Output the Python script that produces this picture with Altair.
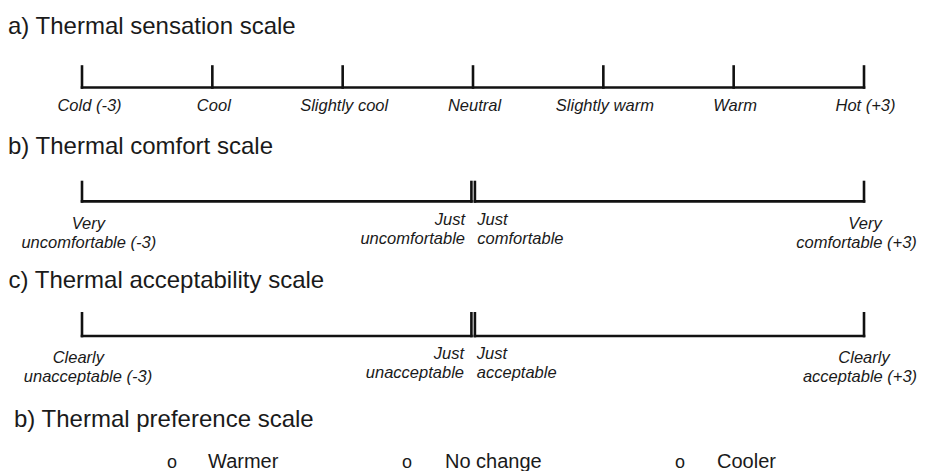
import altair as alt
import pandas as pd

# ---------------- data ----------------
titles = [
    "a) Thermal sensation scale",
    "b) Thermal comfort scale",
    "c) Thermal acceptability scale",
    "b) Thermal preference scale",
]

sensation_values = [-3, -2, -1, 0, 1, 2, 3]
sensation_labels = ["Cold (-3)", "Cool", "Slightly cool", "Neutral",
                    "Slightly warm", "Warm", "Hot (+3)"]

comfort_values = [-3, 0, 0, 3]
comfort_line1 = ["Very", "Just", "Just", "Very"]
comfort_line2 = ["uncomfortable (-3)", "uncomfortable", "comfortable", "comfortable (+3)"]

accept_values = [-3, 0, 0, 3]
accept_line1 = ["Clearly", "Just", "Just", "Clearly"]
accept_line2 = ["unacceptable (-3)", "unacceptable", "acceptable", "acceptable (+3)"]

slots = [0, 1, 2, 3]

preference_options = ["Warmer", "No change", "Cooler"]

# ---------------- style / layout ----------------
FONT = "Liberation Sans"
LINE = "#111111"
TXT = "#1a1a1a"
SW = 2.6
W, H = 909, 463
XS = alt.Scale(domain=[-3.5678, 3.4066], nice=False, zero=False)
OPT_BULLET_X = [164, 399, 672]
OPT_TEXT_X = [200, 437, 709]

layers = []


def title_layer(text, y, x=0):
    return alt.Chart(pd.DataFrame({"t": [text]})).mark_text(
        font=FONT, fontSize=24, color=TXT, align="left", baseline="alphabetic"
    ).encode(text="t:N", x=alt.value(x), y=alt.value(y))


layers += [
    title_layer(titles[0], 26.3, 0),
    title_layer(titles[1], 146, 0),
    title_layer(titles[2], 280.3, 0.5),
    title_layer(titles[3], 418.7, 6),
]

# ---------- a) sensation scale ----------
sens = pd.DataFrame({"value": sensation_values, "label": sensation_labels})
sc = alt.Chart(sens)
layers.append(
    sc.mark_rule(color=LINE, strokeWidth=SW, strokeCap="square").encode(
        x=alt.X("min(value):Q", scale=XS, axis=None),
        x2="max(value):Q",
        y=alt.value(79.5),
    )
)
layers.append(
    sc.mark_rule(color=LINE, strokeWidth=SW, strokeCap="square").encode(
        x=alt.X("value:Q", scale=XS, axis=None),
        y=alt.value(58.5),
        y2=alt.value(79.5),
    )
)
layers.append(
    sc.transform_filter(alt.datum.value > -3).mark_text(
        font=FONT, fontSize=16.5, fontStyle="italic", color=TXT,
        align="center", baseline="alphabetic", dx=1.5
    ).encode(x=alt.X("value:Q", scale=XS, axis=None), y=alt.value(103), text="label:N")
)
layers.append(
    sc.transform_filter(alt.datum.value == -3).mark_text(
        font=FONT, fontSize=16.5, fontStyle="italic", color=TXT,
        align="center", baseline="alphabetic", dx=7.5
    ).encode(x=alt.X("value:Q", scale=XS, axis=None), y=alt.value(103), text="label:N")
)


# ---------- bipolar scales (comfort, acceptability) ----------
def bipolar(values, line1, line2, y_top, y_base, y_outer, y_mid, dx0, dx3, dx1, dx2):
    df = pd.DataFrame({"value": values, "line1": line1, "line2": line2, "slot": slots})
    c = alt.Chart(df)
    rule = dict(color=LINE, strokeWidth=SW, strokeCap="square")
    out = []
    out.append(
        c.transform_filter(alt.datum.slot <= 1).mark_rule(x2Offset=-1.6, **rule).encode(
            x=alt.X("min(value):Q", scale=XS, axis=None), x2="max(value):Q", y=alt.value(y_base)
        )
    )
    out.append(
        c.transform_filter(alt.datum.slot >= 2).mark_rule(xOffset=1.9, **rule).encode(
            x=alt.X("min(value):Q", scale=XS, axis=None), x2="max(value):Q", y=alt.value(y_base)
        )
    )
    out.append(
        c.transform_filter((alt.datum.slot == 0) | (alt.datum.slot == 3)).mark_rule(**rule).encode(
            x=alt.X("value:Q", scale=XS, axis=None), y=alt.value(y_top), y2=alt.value(y_base)
        )
    )
    out.append(
        c.transform_filter(alt.datum.slot == 1).mark_rule(xOffset=-1.6, **rule).encode(
            x=alt.X("value:Q", scale=XS, axis=None), y=alt.value(y_top), y2=alt.value(y_base)
        )
    )
    out.append(
        c.transform_filter(alt.datum.slot == 2).mark_rule(xOffset=1.9, **rule).encode(
            x=alt.X("value:Q", scale=XS, axis=None), y=alt.value(y_top), y2=alt.value(y_base)
        )
    )
    txt = dict(font=FONT, fontSize=16.5, fontStyle="italic", color=TXT, baseline="alphabetic")
    for slot, align, ys, dxs in [
        (0, "center", y_outer, dx0),
        (3, "center", y_outer, dx3),
        (1, "right", y_mid, (dx1, dx1)),
        (2, "left", y_mid, (dx2, dx2)),
    ]:
        for field, yy, ddx in [("line1", ys, dxs[0]), ("line2", ys + 19, dxs[1])]:
            out.append(
                c.transform_filter(alt.datum.slot == slot).mark_text(align=align, dx=ddx, **txt).encode(
                    x=alt.X("value:Q", scale=XS, axis=None), y=alt.value(yy), text=f"{field}:N"
                )
            )
    return out


layers += bipolar(comfort_values, comfort_line1, comfort_line2,
                  y_top=174, y_base=193.4, y_outer=220.5, y_mid=217,
                  dx0=(6.3, 6.8), dx3=(1, -7.5), dx1=-8, dx2=4.3)
layers += bipolar(accept_values, accept_line1, accept_line2,
                  y_top=305.3, y_base=328, y_outer=355.3, y_mid=350.5,
                  dx0=(-3.7, 6), dx3=(0, -4), dx1=-9, dx2=3.8)

# ---------- preference options ----------
pref = pd.DataFrame({"option": preference_options})
for opt, bx, tx in zip(preference_options, OPT_BULLET_X, OPT_TEXT_X):
    pc = alt.Chart(pref).transform_filter(alt.datum.option == opt)
    layers.append(
        pc.mark_text(font=FONT, fontSize=18, color=TXT, align="center", baseline="alphabetic").encode(
            x=alt.value(bx), y=alt.value(460), text=alt.value("o")
        )
    )
    layers.append(
        pc.mark_text(font=FONT, fontSize=20, color=TXT, align="left", baseline="alphabetic").encode(
            x=alt.value(tx), y=alt.value(459.5), text="option:N"
        )
    )

chart = (
    alt.layer(*layers)
    .resolve_scale(x="independent")
    .properties(width=W, height=H, padding=0, autosize=alt.AutoSizeParams(type="none"), background="white")
    .configure_view(strokeWidth=0)
)

chart.save("out.html", embed_options={"renderer": "svg", "actions": False})
